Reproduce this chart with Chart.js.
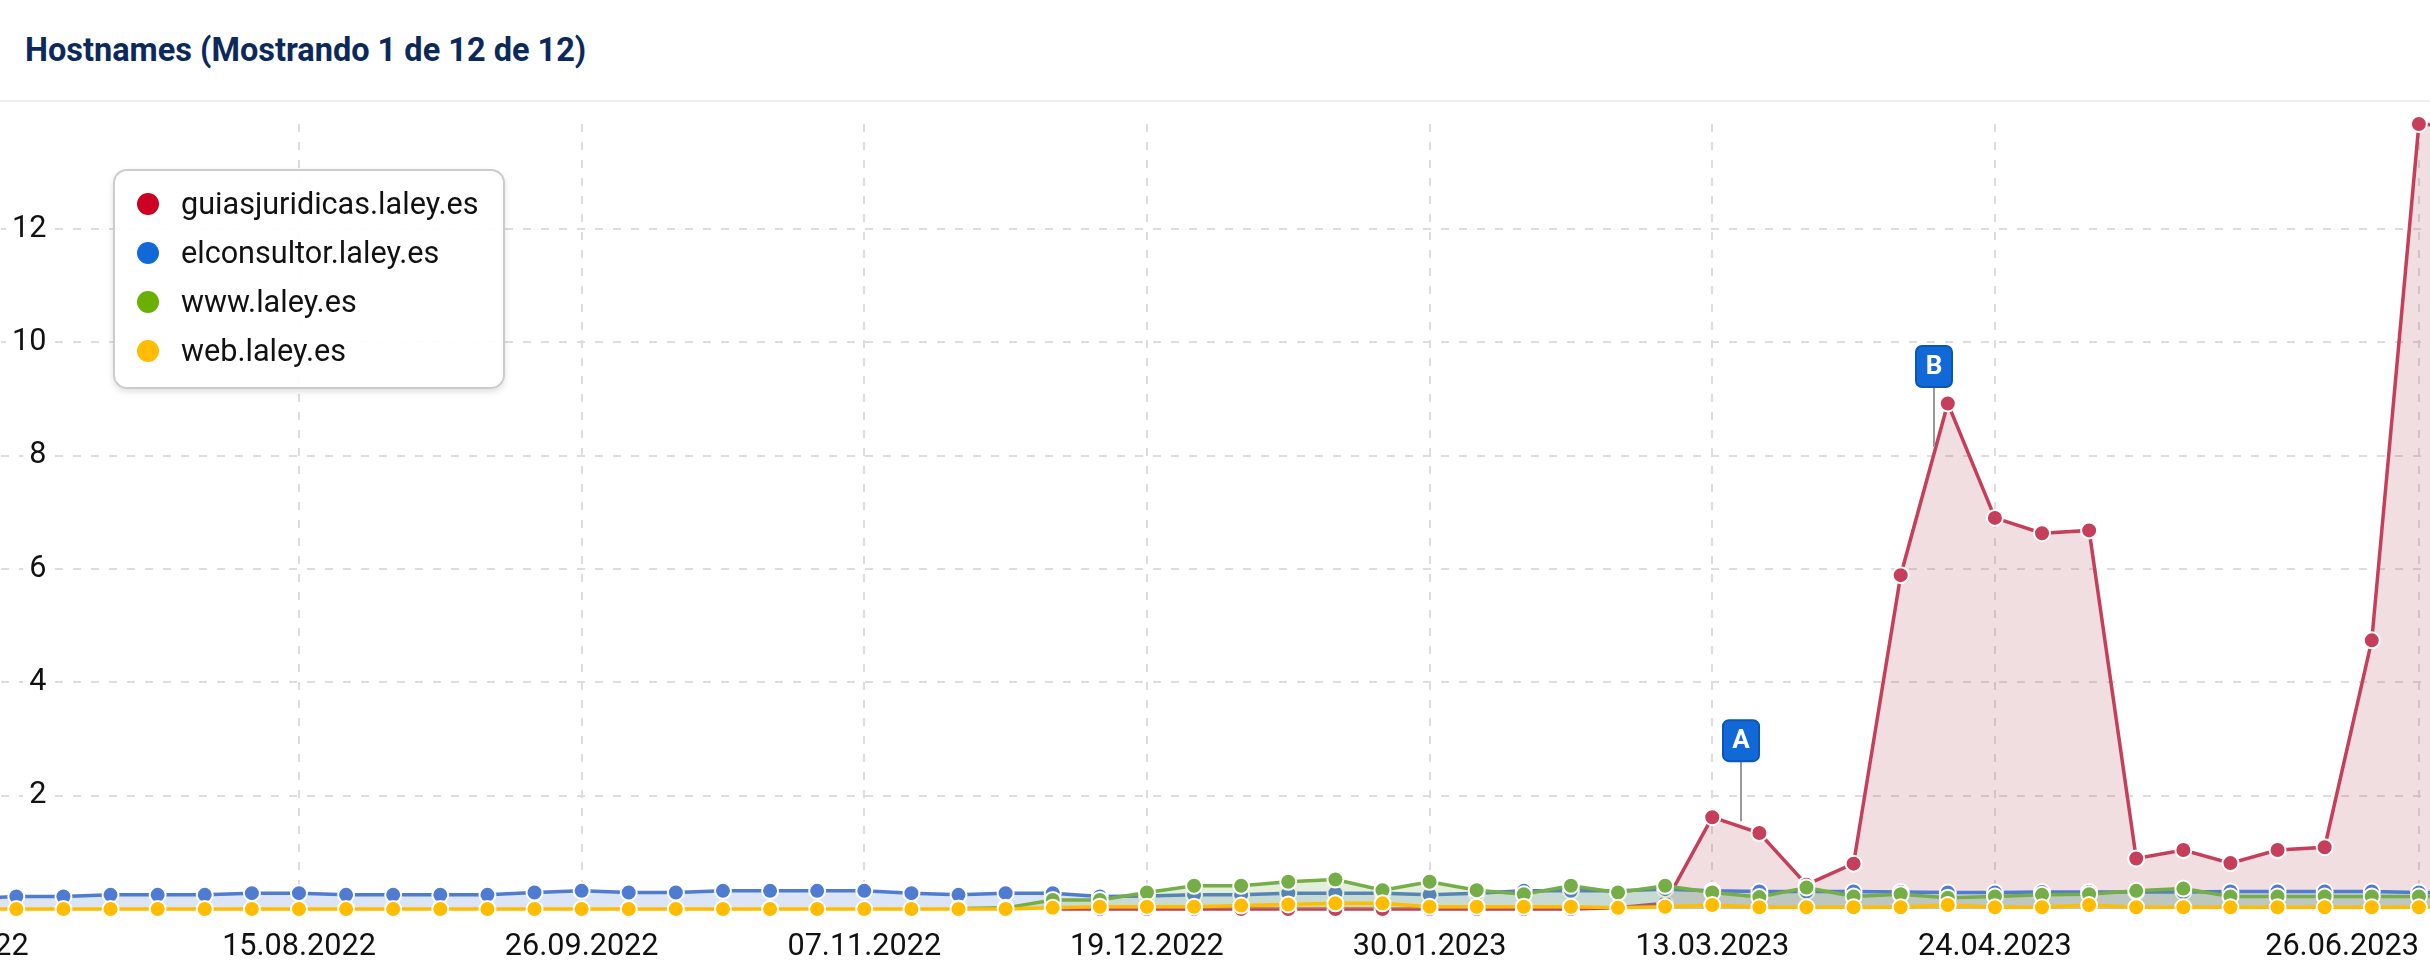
<!DOCTYPE html>
<html lang="es">
<head>
<meta charset="utf-8">
<title>Hostnames</title>
<script src="https://cdn.jsdelivr.net/npm/chart.js@4"></script>
<style>
    html, body { margin: 0; padding: 0; background: #fff; }
    body { position: relative; width: 2430px; height: 976px; overflow: hidden; font-family: Roboto, sans-serif; }
    h1 { position: absolute; left: 25px; top: 30px; margin: 0; font-size: 32.5px; line-height: 40px; font-weight: 700; color: #0b2a5b; }
    .separador { position: absolute; left: 0; top: 100px; width: 2430px; height: 2px; background: #eeeeee; }
    #grafico { position: absolute; left: -125px; top: 0; }
    #legenda {
        position: absolute; left: 113px; top: 169px; width: 388px; height: 216px;
        border: 2px solid #cccccc; border-radius: 14px; background: rgba(255, 255, 255, .93);
        box-shadow: 0 3px 6px rgba(0, 0, 0, .12);
    }
    #legenda div { position: absolute; left: 66px; height: 48px; line-height: 48px; font-size: 30.6px; color: #111; white-space: nowrap; }
    #legenda span { position: absolute; left: -44px; top: 13px; width: 22px; height: 22px; border-radius: 50%; }
</style>
</head>
<body>
<h1>Hostnames (Mostrando 1 de 12 de 12)</h1>
<div class="separador"></div>
<canvas id="grafico" width="2600" height="976"></canvas>
<div id="legenda"></div>
<script>
const semanas = [
    '13.06.2022', '20.06.2022', '27.06.2022', '04.07.2022', '11.07.2022', '18.07.2022', '25.07.2022',
    '01.08.2022', '08.08.2022', '15.08.2022', '22.08.2022', '29.08.2022', '05.09.2022', '12.09.2022',
    '19.09.2022', '26.09.2022', '03.10.2022', '10.10.2022', '17.10.2022', '24.10.2022', '31.10.2022',
    '07.11.2022', '14.11.2022', '21.11.2022', '28.11.2022', '05.12.2022', '12.12.2022', '19.12.2022',
    '26.12.2022', '02.01.2023', '09.01.2023', '16.01.2023', '23.01.2023', '30.01.2023', '06.02.2023',
    '13.02.2023', '20.02.2023', '27.02.2023', '06.03.2023', '13.03.2023', '20.03.2023', '27.03.2023',
    '03.04.2023', '10.04.2023', '17.04.2023', '24.04.2023', '01.05.2023', '08.05.2023', '15.05.2023',
    '22.05.2023', '29.05.2023', '05.06.2023', '12.06.2023', '19.06.2023', '26.06.2023', '03.07.2023'
];

const fechasEje = [
    '13.06.2022', '15.08.2022', '26.09.2022', '07.11.2022', '19.12.2022',
    '30.01.2023', '13.03.2023', '24.04.2023', '26.06.2023'
];

const guiasjuridicas = [
    null, null,
    null, null, null, null, null, null, null, null, null, null, null, null, null, null, null, null, null, null,
    null, null, null, null, null,
    0, 0, 0, 0, 0, 0, 0, 0, 0, 0, 0, 0,
    0.02, 0.1, 1.62, 1.34, 0.43, 0.8, 5.89, 8.92, 6.9, 6.63, 6.68, 0.89, 1.04, 0.81, 1.04, 1.09, 4.74, 13.85, 13.8
];

const elconsultor = [
    null, null,
    0.18, 0.22, 0.22, 0.25, 0.25, 0.25, 0.28, 0.28, 0.25, 0.25, 0.25, 0.25, 0.29, 0.32, 0.29, 0.29, 0.32, 0.32,
    0.32, 0.32, 0.28, 0.25, 0.28, 0.28, 0.22, 0.23, 0.25, 0.25, 0.28, 0.28, 0.28, 0.25, 0.28, 0.32, 0.32,
    0.32, 0.35, 0.32, 0.31, 0.31, 0.31, 0.3, 0.29, 0.29, 0.3, 0.3, 0.3, 0.3, 0.31, 0.31, 0.31, 0.31, 0.29, 0.29
];

const wwwLaley = [
    null, null,
    null, null, null, null, null, null, null, null, null, null, null, null, null, null, null, null, null, null,
    null, null, null, 0.01, 0.02, 0.16, 0.16, 0.29, 0.41, 0.41, 0.48, 0.52, 0.33, 0.48, 0.33, 0.26, 0.41,
    0.29, 0.41, 0.29, 0.21, 0.38, 0.22, 0.26, 0.2, 0.22, 0.25, 0.26, 0.32, 0.36, 0.22, 0.22, 0.22, 0.22, 0.22, 0.22
];

const webLaley = [
    null, null,
    0, 0, 0, 0, 0, 0, 0, 0, 0, 0, 0, 0, 0, 0, 0, 0, 0, 0,
    0, 0, 0, 0, 0, 0.02, 0.04, 0.04, 0.04, 0.06, 0.08, 0.1, 0.1, 0.04, 0.04, 0.04, 0.04,
    0.02, 0.04, 0.07, 0.03, 0.03, 0.03, 0.03, 0.07, 0.03, 0.03, 0.07, 0.03, 0.03, 0.03, 0.03, 0.03, 0.03, 0.03, 0.03
];

const hostnames = ['guiasjuridicas.laley.es', 'elconsultor.laley.es', 'www.laley.es', 'web.laley.es'];
const valores = [guiasjuridicas, elconsultor, wwwLaley, webLaley];
const coresLegenda = ['#cc0022', '#1169d8', '#6ab000', '#ffbc00'];
const coresLinha = ['#c53e5a', '#4f7bd0', '#75ae47', '#ffbc00'];
const coresArea = ['rgba(180,70,90,.18)', 'rgba(79,123,208,.2)', 'rgba(117,174,71,.2)', 'rgba(255,188,0,.2)'];

// Marcas A e B: semana (pode ficar entre dois pontos) e valor onde termina a haste
const marcas = ['A', 'B'];
const marcasSemana = [39.6, 43.7];
const marcasValor = [1.55, 8.15];

const pluginMarcas = {
    id: 'marcas',
    afterDatasetsDraw(chart) {
        const { ctx, scales: { x, y } } = chart;
        ctx.save();
        marcas.forEach((letra, i) => {
            const px = Math.round(x.getPixelForValue(marcasSemana[i]));
            const py = y.getPixelForValue(marcasValor[i]);
            const topo = py - 60;

            ctx.strokeStyle = '#999999';
            ctx.lineWidth = 2;
            ctx.beginPath();
            ctx.moveTo(px, py);
            ctx.lineTo(px, topo);
            ctx.stroke();

            ctx.fillStyle = '#1169d8';
            ctx.strokeStyle = '#0a55b5';
            ctx.beginPath();
            ctx.roundRect(px - 18, topo - 41, 36, 41, 6);
            ctx.fill();
            ctx.stroke();

            ctx.fillStyle = '#ffffff';
            ctx.font = '700 26px Roboto';
            ctx.textAlign = 'center';
            ctx.textBaseline = 'middle';
            ctx.fillText(letra, px, topo - 20);
        });
        ctx.restore();
    }
};

function montarLegenda() {
    const legenda = document.getElementById('legenda');
    hostnames.forEach((nome, i) => {
        const linha = document.createElement('div');
        linha.style.top = (9 + i * 49) + 'px';
        linha.textContent = nome;
        const ponto = document.createElement('span');
        ponto.style.background = coresLegenda[i];
        linha.appendChild(ponto);
        legenda.appendChild(linha);
    });
}

function desenharGrafico() {
    const grade = { color: '#dddddd', lineWidth: 2, drawTicks: false };
    const tracejado = { dash: [8, 10] };

    new Chart(document.getElementById('grafico'), {
        type: 'line',
        plugins: [pluginMarcas],
        data: {
            labels: semanas,
            datasets: hostnames.map((nome, i) => ({
                label: nome,
                data: valores[i],
                // ordem menor fica por cima: web.laley.es e a ultima a ser desenhada
                order: hostnames.length - i,
                borderColor: coresLinha[i],
                backgroundColor: coresArea[i],
                fill: 'origin',
                borderWidth: 3.5,
                tension: 0,
                clip: false,
                pointRadius: 8,
                pointBorderWidth: 2,
                pointBackgroundColor: coresLinha[i],
                pointBorderColor: '#ffffff'
            }))
        },
        options: {
            responsive: false,
            animation: false,
            layout: { autoPadding: false, padding: { top: 124, right: 9, left: 0, bottom: 0 } },
            plugins: { legend: { display: false }, tooltip: { enabled: false } },
            scales: {
                x: {
                    offset: false,
                    grid: grade,
                    border: { display: false, ...tracejado },
                    afterBuildTicks(escala) {
                        escala.ticks = escala.ticks.filter(t => fechasEje.includes(semanas[t.value]));
                    },
                    afterFit(escala) {
                        escala.height = 67;
                        escala.paddingLeft = 0;
                        escala.paddingRight = 0;
                    },
                    ticks: {
                        autoSkip: false,
                        maxRotation: 0,
                        minRotation: 0,
                        align: 'inner',
                        padding: 20,
                        color: '#111111',
                        font: { family: 'Roboto', size: 30.6 }
                    }
                },
                y: {
                    min: 0,
                    max: 13.85,
                    grid: grade,
                    border: { display: false, ...tracejado },
                    afterBuildTicks(escala) {
                        escala.ticks = escala.ticks.filter(t => t.value > 0);
                    },
                    afterFit(escala) {
                        escala.width = 0;
                        escala.paddingTop = 0;
                        escala.paddingBottom = 0;
                    },
                    ticks: {
                        stepSize: 2,
                        includeBounds: false,
                        mirror: true,
                        crossAlign: 'far',
                        padding: 137,
                        color: '#111111',
                        showLabelBackdrop: true,
                        backdropColor: '#ffffff',
                        backdropPadding: { left: 6, right: 6, top: 0, bottom: 0 },
                        font: { family: 'Roboto', size: 30.6 }
                    }
                }
            }
        }
    });
}

document.addEventListener('DOMContentLoaded', () => {
    montarLegenda();
    desenharGrafico();
});
</script>
</body>
</html>
